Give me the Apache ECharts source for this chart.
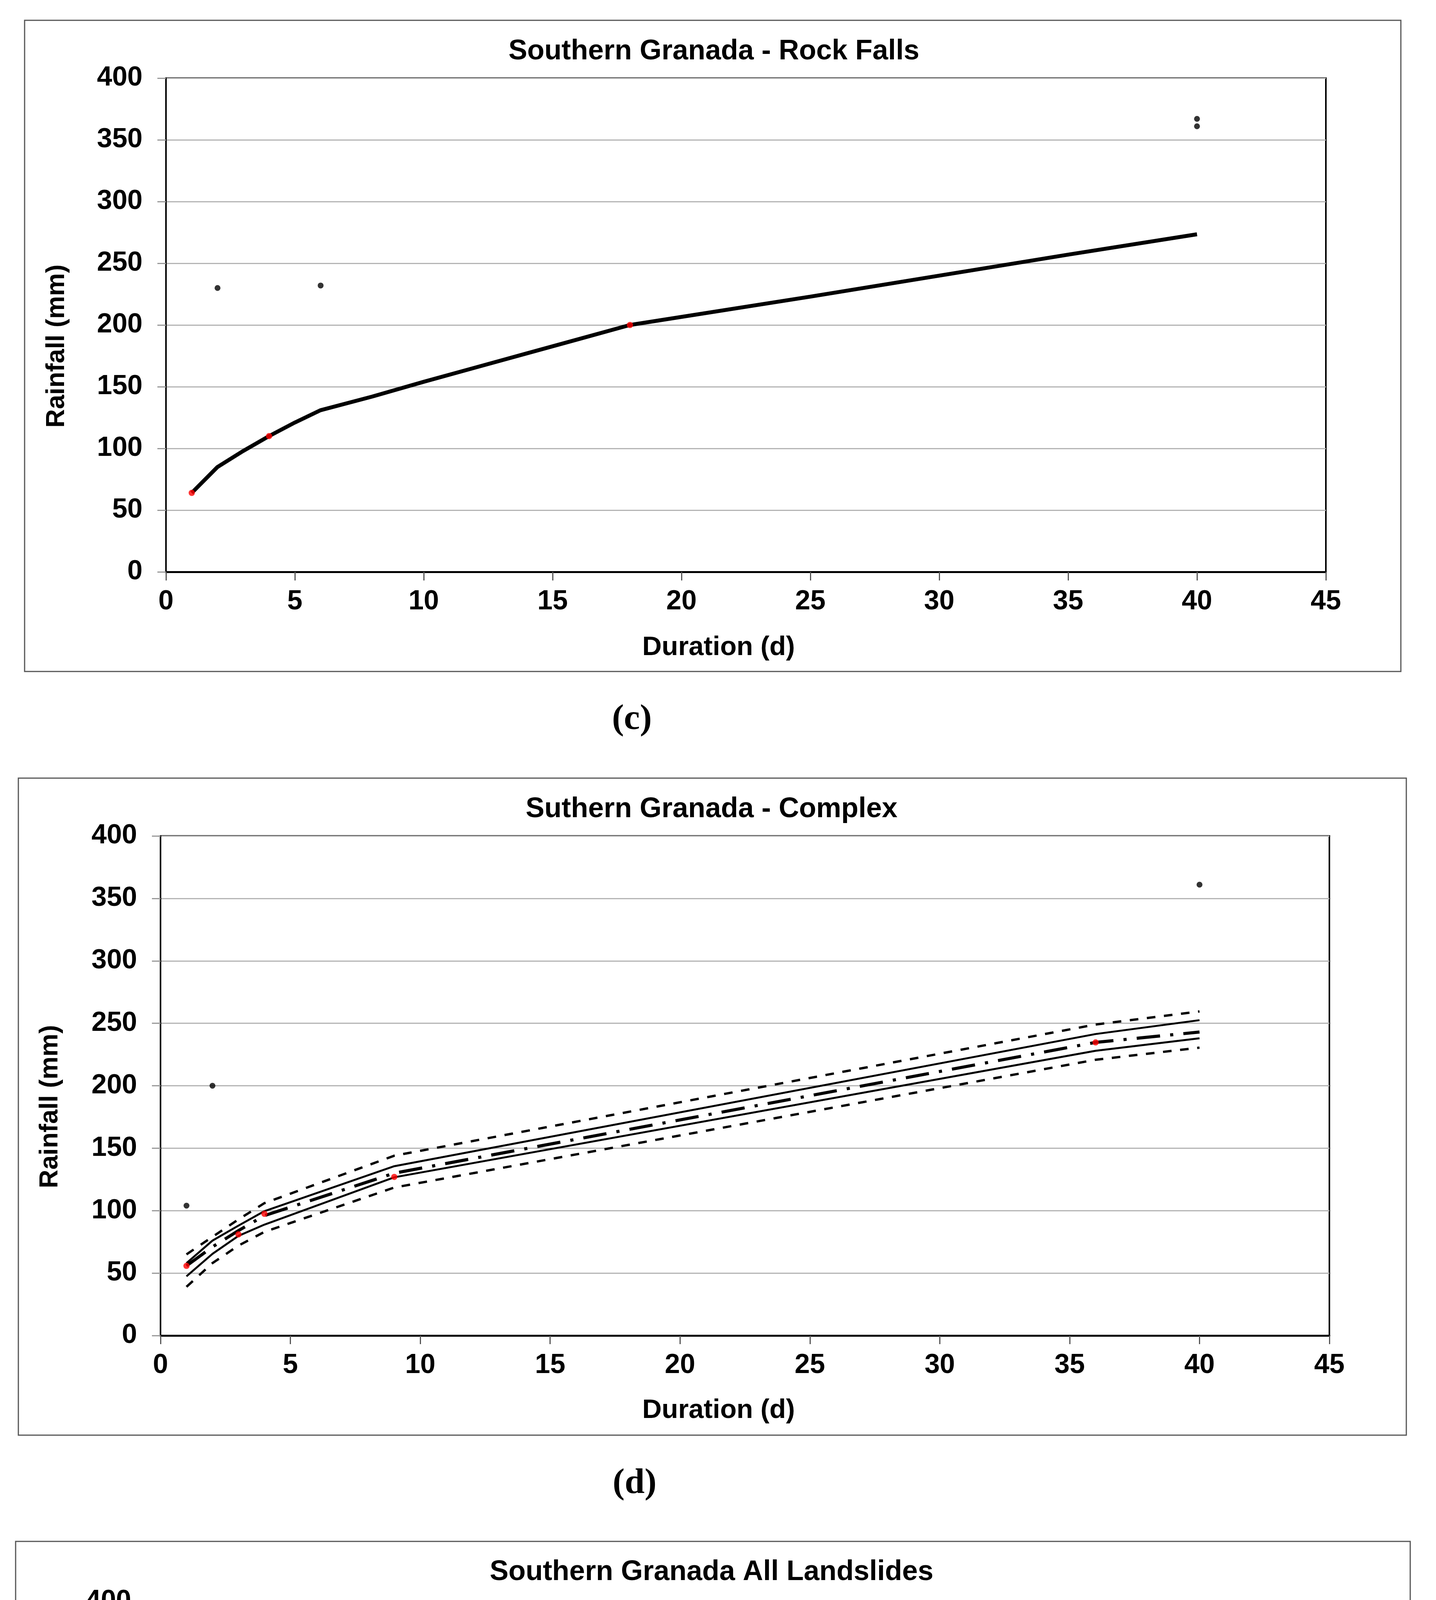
<!DOCTYPE html>
<html>
<head>
<meta charset="utf-8">
<script src="https://cdn.jsdelivr.net/npm/echarts@6/dist/echarts.min.js"></script>
<style>
html,body{margin:0;padding:0;background:#fff;}
#chart{width:3677px;height:5837px;}
</style>
</head>
<body>
<div id="chart"></div>
<script>
// ---------- Panel (c): Southern Granada - Rock Falls ----------
const rfLineX = [1, 2, 3, 4, 5, 6, 8, 10, 12, 14, 16, 18, 25, 30, 35, 40];
const rfLineY = [64, 85, 98, 110, 121, 131, 142, 154, 165.5, 177, 188.5, 200, 223, 240, 257, 273.5];
const rfBlackX = [2, 6, 40, 40];
const rfBlackY = [230, 232, 367, 361];
const rfRedX = [1, 4, 18];
const rfRedY = [64, 110, 200];

// ---------- Panel (d): Suthern Granada - Complex ----------
const cxLineX = [1, 2, 3, 4, 9, 36, 40];
const cxUpperDashed = [65, 79, 93, 106, 144, 249, 259.5];
const cxUpperSolid  = [58, 76, 88, 99.6, 135.6, 241.4, 252.5];
const cxCentral     = [55.8, 71, 84, 96, 130, 234.7, 243];
const cxLowerSolid  = [47.4, 65.4, 79.8, 88.8, 126.7, 228, 238];
const cxLowerDashed = [39, 58, 72, 83, 118.5, 220.8, 230.5];
const cxBlackX = [1, 2, 40];
const cxBlackY = [104, 200, 361];
const cxRedX = [1, 3, 4, 9, 36];
const cxRedY = [55.8, 81, 97.5, 127, 234.7];

// ---------- Panel (e): Southern Granada All Landslides ----------
const alLineX = [1, 2, 3, 4, 6, 9, 18, 36, 40, 64];
const alUpperDashed = [104, 113, 120, 126, 135, 144, 160, 182, 186, 205];
const alUpperSolid  = [75, 86, 93.5, 98, 106, 114, 130, 154.6, 159, 184];
const alMidDotted   = [64, 72, 81, 87, 95, 103.6, 121, 141, 145, 160.5];
const alLowerSolid  = [55, 66.5, 73.5, 78, 86, 94, 111.5, 132, 135.6, 150.7];
const alLowerDashed = [24.5, 35, 42, 47.6, 55, 65, 82, 102.6, 106, 121];
const alBlackX = [1, 1, 2, 2, 2, 4, 4, 6, 10, 18, 36, 40, 40];
const alBlackY = [104, 63.5, 230, 200, 175.8, 110, 97.5, 232, 181, 200, 234.6, 368, 361];
const alRedX = [1, 2, 3, 9, 64];
const alRedY = [55, 67.6, 80.5, 127, 151];

// ---------- Axis ticks / texts ----------
const yTicks = {min: 0, max: 400, interval: 50};
const xTicksCD = {min: 0, max: 45, interval: 5};
const xTicksE = {min: 0, max: 70, interval: 10};
const titles = ['Southern Granada - Rock Falls', 'Suthern Granada - Complex', 'Southern Granada All Landslides'];
const panelLabels = ['(c)', '(d)', '(e)'];
const xName = 'Duration (d)';
const yName = 'Rainfall (mm)';

function zip(xs, ys) { return xs.map((x, i) => [x, ys[i]]); }

const FONT = '"Liberation Sans", Arial, sans-serif';

const grids = [
  {left: 425, top: 200, width: 2970, height: 1264},
  {left: 411, top: 2140, width: 2993, height: 1279},
  {left: 396, top: 4100, width: 3008, height: 1285}
];
const boxes = [
  {x: 63, y: 52, w: 3524, h: 1667},
  {x: 47, y: 1992, w: 3554, h: 1682},
  {x: 40, y: 3946, w: 3571, h: 1693}
];
const titleY = [132, 2072, 4025];
const titleX = [1828, 1822, 1822];
const xNameY = [1658, 3611, 5580];
const yNameX = [146, 129, 122];
const yNameY = [886, 2833, 4789];
const labelPos = [[1618, 1842], [1625, 3798], [1822, 5778]];

function makeX(i, t) {
  return {
    type: 'value', gridIndex: i, min: t.min, max: t.max, interval: t.interval,
    axisLine: {show: true, onZero: false, lineStyle: {color: '#000', width: 5}},
    axisTick: {show: true, inside: false, length: 22, lineStyle: {color: '#555', width: 3}},
    axisLabel: {show: true, margin: 42, color: '#000', fontSize: 70, fontWeight: 'bold', fontFamily: FONT},
    splitLine: {show: false}
  };
}
function makeY(i) {
  return {
    type: 'value', gridIndex: i, min: yTicks.min, max: yTicks.max, interval: yTicks.interval,
    axisLine: {show: true, onZero: false, lineStyle: {color: '#000', width: 4}},
    axisTick: {show: true, inside: false, length: 22, lineStyle: {color: '#999', width: 3}},
    axisLabel: {show: true, margin: 60, color: '#000', fontSize: 70, fontWeight: 'bold', fontFamily: FONT},
    splitLine: {show: true, lineStyle: {color: '#b4b4b4', width: 3}}
  };
}
function line(i, xs, ys, width, type) {
  return {
    type: 'line', xAxisIndex: i, yAxisIndex: i, data: zip(xs, ys),
    showSymbol: false, symbol: 'none', smooth: false, z: 3,
    lineStyle: {color: '#000', width: width, type: type, cap: 'butt'}
  };
}
function dots(i, xs, ys, color, size) {
  return {
    type: 'scatter', xAxisIndex: i, yAxisIndex: i, data: zip(xs, ys),
    symbol: 'circle', symbolSize: size, z: 5,
    itemStyle: {color: color, borderWidth: 0}
  };
}

const LONGDASH = [45, 22];
const SHORTDASH = [22, 22];
const DOTTED = [22, 14];
const DASHDOT = [60, 26, 8, 26];

const series = [
  line(0, rfLineX, rfLineY, 10, 'solid'),
  dots(0, rfBlackX, rfBlackY, '#000', 15),
  dots(0, rfRedX, rfRedY, '#ff0000', 16),

  line(1, cxLineX, cxUpperDashed, 6, SHORTDASH),
  line(1, cxLineX, cxUpperSolid, 5, 'solid'),
  line(1, cxLineX, cxCentral, 8, DASHDOT),
  line(1, cxLineX, cxLowerSolid, 5, 'solid'),
  line(1, cxLineX, cxLowerDashed, 6, SHORTDASH),
  dots(1, cxBlackX, cxBlackY, '#000', 15),
  dots(1, cxRedX, cxRedY, '#ff0000', 16),

  line(2, alLineX, alUpperDashed, 6, LONGDASH),
  line(2, alLineX, alUpperSolid, 6, 'solid'),
  line(2, alLineX, alMidDotted, 6, DOTTED),
  line(2, alLineX, alLowerSolid, 6, 'solid'),
  line(2, alLineX, alLowerDashed, 6, LONGDASH),
  dots(2, alBlackX, alBlackY, '#000', 17),
  dots(2, alRedX, alRedY, '#ff0000', 18)
];

const graphics = [];
for (let i = 0; i < 3; i++) {
  const b = boxes[i];
  graphics.push({type: 'rect', z: 0, shape: {x: b.x, y: b.y, width: b.w, height: b.h},
    style: {fill: 'none', stroke: '#555', lineWidth: 3}});
  graphics.push({type: 'text', z: 10, x: titleX[i], y: titleY[i],
    style: {text: titles[i], font: 'bold 72px ' + FONT, fill: '#000',
      align: 'center', verticalAlign: 'middle', textAlign: 'center', textVerticalAlign: 'middle'}});
  graphics.push({type: 'text', z: 10, x: 1840, y: xNameY[i],
    style: {text: xName, font: 'bold 69px ' + FONT, fill: '#000',
      align: 'center', verticalAlign: 'middle', textAlign: 'center', textVerticalAlign: 'middle'}});
  graphics.push({type: 'text', z: 10, x: yNameX[i], y: yNameY[i], rotation: Math.PI / 2,
    style: {text: yName, font: 'bold 66px ' + FONT, fill: '#000',
      align: 'center', verticalAlign: 'middle', textAlign: 'center', textVerticalAlign: 'middle'}});
  graphics.push({type: 'text', z: 10, x: labelPos[i][0], y: labelPos[i][1],
    style: {text: panelLabels[i], font: 'bold 92px "Liberation Serif", "Times New Roman", serif', fill: '#000',
      align: 'center', verticalAlign: 'middle', textAlign: 'center', textVerticalAlign: 'middle'}});
}

const chart = echarts.init(document.getElementById('chart'), null, {renderer: 'canvas'});
chart.setOption({
  animation: false,
  backgroundColor: '#fff',
  grid: grids.map(g => Object.assign({show: true, borderColor: '#000', borderWidth: 4, backgroundColor: 'transparent', containLabel: false}, g)),
  xAxis: [makeX(0, xTicksCD), makeX(1, xTicksCD), makeX(2, xTicksE)],
  yAxis: [makeY(0), makeY(1), makeY(2)],
  series: series,
  graphic: {elements: graphics}
});
</script>
</body>
</html>
